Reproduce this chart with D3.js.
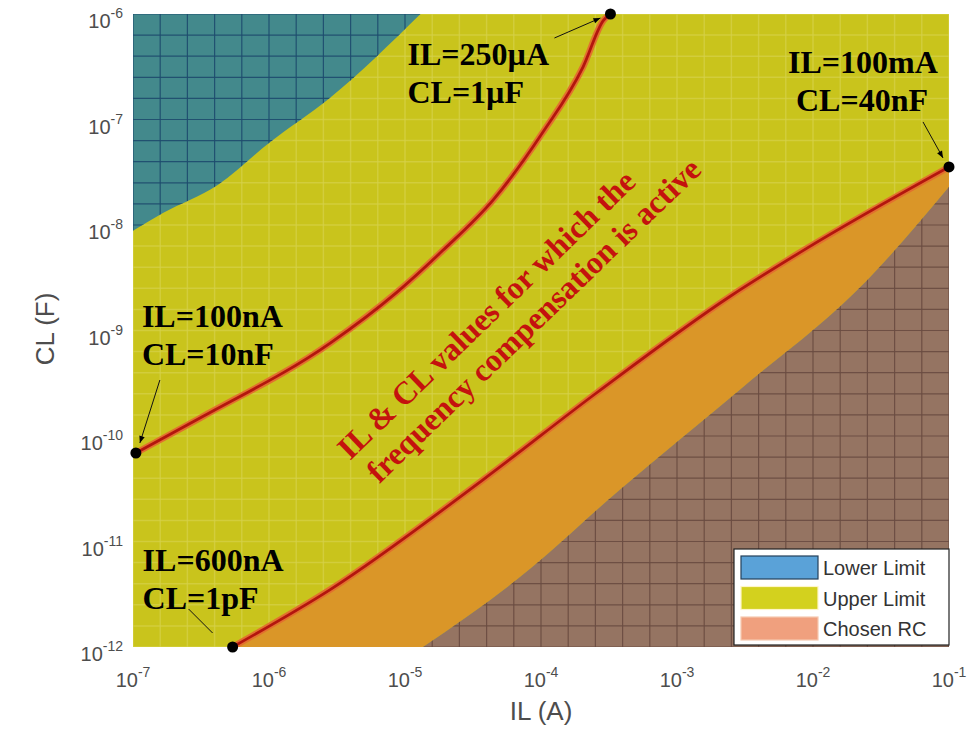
<!DOCTYPE html>
<html>
<head>
<meta charset="utf-8">
<script src="https://cdn.jsdelivr.net/npm/d3@7"></script>
<style>
  body { margin: 0; background: #fff; }
</style>
</head>
<body>
<svg id="chart" width="976" height="731"></svg>
<script>
// axis ticks (powers of ten)
const xTickExps = [-7, -6, -5, -4, -3, -2, -1];
const yTickExps = [-12, -11, -10, -9, -8, -7, -6];

// [IL (A), CL (F)] boundary of the "Lower Limit" region (top-left)
const lowerLimitEdge = [
  [1e-7, 8.8e-9], [1.66e-7, 1.3e-8], [4.2e-7, 2.4e-8], [1e-6, 6e-8],
  [2.8e-6, 1.6e-7], [1.3e-5, 1e-6],
];

// upper red curve, from IL=100nA up to IL=250µA
const upperCurve = [
  [1.05e-7, 6.9e-11], [3.11e-7, 1.48e-10], [2.82e-6, 7.6e-10],
  [8.7e-6, 2.3e-9], [1.9e-5, 5.75e-9], [4.47e-5, 1.74e-8],
  [1.02e-4, 7.4e-8], [2.04e-4, 3.16e-7], [2.88e-4, 8.7e-7],
  [3.24e-4, 1e-6],
];

// lower red curve, from IL=600nA up to IL=100mA
const lowerCurve = [
  [5.4e-7, 1e-12], [2.82e-6, 3.5e-12], [3.7e-5, 3.8e-11], [2.57e-4, 2.57e-10],
  [2.45e-3, 2.1e-9], [8.5e-3, 5.75e-9], [1e-1, 3.55e-8],
];

// boundary of the hatched region at bottom right
const chosenEdge = [
  [1.355e-5, 1e-12], [7.0e-5, 4.6e-12], [3.8e-4, 3.1e-11], [2.9e-3, 2.75e-10],
  [2.5e-2, 3.0e-9], [1e-1, 2.3e-8],
];

// end points marked with dots
const markers = [
  [3.24e-4, 1e-6], [1e-1, 3.55e-8], [1.05e-7, 6.9e-11], [5.4e-7, 1e-12],
];
const markerText = [
  ['IL=250µA', 'CL=1µF'],
  ['IL=100mA', ' CL=40nF'],
  ['IL=100nA', 'CL=10nF'],
  ['IL=600nA', 'CL=1pF'],
];

const legendNames = ['Lower Limit', 'Upper Limit', 'Chosen RC'];
const mainNote = ['IL & CL values for which the', 'frequency compensation is active'];

// layout
const pLeft = 133, pRight = 949, pTop = 14, pBottom = 647;
// pixel offsets from each marker: text origin and arrow
const noteLayout = [
  { tx: -203, ty: 51, arrow: [-56, 24, -10, 4], head: true },
  { tx: -161, ty: -94, arrow: [-26, -45, -6, -9], head: true },
  { tx: 6, ty: -126, arrow: [24, -73, 4, -10], head: true },
  { tx: -90, ty: -76, arrow: [-44, -38, -20, -14], head: false },
];

const colors = {
  yellow: '#c9c41c', yellowGrid: '#d6d24a',
  teal: '#43898c', tealGrid: '#1f4c6e',
  orange: '#da9628', brown: '#957462', brownGrid: '#6a4c42',
  redHalo: '#e2702e', redCore: '#b3160e',
};

const svg = d3.select('#chart');
const x = d3.scaleLog().domain([1e-7, 1e-1]).range([pLeft, pRight]);
const y = d3.scaleLog().domain([1e-12, 1e-6]).range([pBottom, pTop]);

const defs = svg.append('defs');
defs.append('clipPath').attr('id', 'plotClip')
  .append('rect').attr('x', pLeft).attr('y', pTop)
  .attr('width', pRight - pLeft).attr('height', pBottom - pTop);

defs.append('marker').attr('id', 'arrowHead')
  .attr('viewBox', '0 0 10 10').attr('refX', 10).attr('refY', 5)
  .attr('markerWidth', 9).attr('markerHeight', 7).attr('orient', 'auto')
  .attr('markerUnits', 'userSpaceOnUse')
  .append('path').attr('d', 'M0,1 L10,5 L0,9 Z').attr('fill', '#000');

const smooth = d3.line().x((d) => x(d[0])).y((d) => y(d[1])).curve(d3.curveMonotoneX);
const pt = (d) => `${x(d[0])},${y(d[1])}`;

// region outlines
const tealPath = smooth(lowerLimitEdge) + `L${pt([1e-7, 1e-6])}Z`;
const brownPath = smooth(chosenEdge) + `L${pt([1e-1, 1e-12])}Z`;
const revEdge = smooth(chosenEdge.slice().reverse());
const orangePath = smooth(lowerCurve) + 'L' + revEdge.slice(1) + 'Z';

defs.append('clipPath').attr('id', 'tealClip').append('path').attr('d', tealPath);
defs.append('clipPath').attr('id', 'brownClip').append('path').attr('d', brownPath);

// grid lines every 0.2 decade
const gridX = d3.range(0, 31).map((k) => Math.pow(10, -7 + k * 0.2));
const gridY = d3.range(0, 31).map((k) => Math.pow(10, -12 + k * 0.2));

const drawGrid = (g, color, width, opacity) => {
  g.selectAll('line.gx').data(gridX).join('line').attr('class', 'gx')
    .attr('x1', (d) => x(d)).attr('x2', (d) => x(d)).attr('y1', pTop).attr('y2', pBottom)
    .attr('stroke', color).attr('stroke-width', width).attr('opacity', opacity);
  g.selectAll('line.gy').data(gridY).join('line').attr('class', 'gy')
    .attr('y1', (d) => y(d)).attr('y2', (d) => y(d)).attr('x1', pLeft).attr('x2', pRight)
    .attr('stroke', color).attr('stroke-width', width).attr('opacity', opacity);
};

const plot = svg.append('g').attr('clip-path', 'url(#plotClip)');

plot.append('rect').attr('x', pLeft).attr('y', pTop)
  .attr('width', pRight - pLeft).attr('height', pBottom - pTop).attr('fill', colors.yellow);
drawGrid(plot.append('g'), colors.yellowGrid, 1.5, 0.7);

plot.append('path').attr('d', tealPath).attr('fill', colors.teal);
drawGrid(plot.append('g').attr('clip-path', 'url(#tealClip)'), colors.tealGrid, 1.2, 0.9);

plot.append('path').attr('d', orangePath).attr('fill', colors.orange);
plot.append('path').attr('d', brownPath).attr('fill', colors.brown);
drawGrid(plot.append('g').attr('clip-path', 'url(#brownClip)'), colors.brownGrid, 1.2, 0.9);

// red curves
[upperCurve, lowerCurve].forEach((c) => {
  plot.append('path').attr('d', smooth(c)).attr('fill', 'none')
    .attr('stroke', colors.redHalo).attr('stroke-width', 6.5).attr('stroke-linecap', 'round');
  plot.append('path').attr('d', smooth(c)).attr('fill', 'none')
    .attr('stroke', colors.redCore).attr('stroke-width', 2.8).attr('stroke-linecap', 'round');
});

// axes tick labels
const tickFont = '"Liberation Sans", Arial, sans-serif';
const xt = svg.append('g').attr('font-family', tickFont).attr('fill', '#4d4d4d');
xTickExps.forEach((e) => {
  const t = xt.append('text').attr('x', x(Math.pow(10, e))).attr('y', pBottom + 40)
    .attr('text-anchor', 'middle').attr('font-size', 20);
  t.append('tspan').text('10');
  t.append('tspan').attr('font-size', 14).attr('dy', -10).text(String(e));
});
const yt = svg.append('g').attr('font-family', tickFont).attr('fill', '#4d4d4d');
yTickExps.forEach((e) => {
  const t = yt.append('text').attr('x', 123).attr('y', y(Math.pow(10, e)) + 14)
    .attr('text-anchor', 'end').attr('font-size', 20);
  t.append('tspan').text('10');
  t.append('tspan').attr('font-size', 14).attr('dy', -10).text(String(e));
});

svg.append('text').attr('x', 541).attr('y', 720).attr('text-anchor', 'middle')
  .attr('font-family', tickFont).attr('font-size', 26).attr('fill', '#4d4d4d').text('IL (A)');
svg.append('text').attr('transform', 'translate(54,329) rotate(-90)').attr('text-anchor', 'middle')
  .attr('font-family', tickFont).attr('font-size', 26).attr('fill', '#4d4d4d').text('CL (F)');

// legend
const lg = svg.append('g');
lg.append('rect').attr('x', 734).attr('y', 549).attr('width', 215).attr('height', 96)
  .attr('fill', '#fff').attr('stroke', '#222').attr('stroke-width', 1.2);
const swatch = [
  { fill: '#5aa2d8', stroke: '#24405a' },
  { fill: '#d3d11e', stroke: '#fff6c8' },
  { fill: '#f0a07e', stroke: '#f6c8b0' },
];
legendNames.forEach((name, i) => {
  const yy = 556 + i * 30.5;
  lg.append('rect').attr('x', 741).attr('y', yy).attr('width', 77).attr('height', 23)
    .attr('fill', swatch[i].fill).attr('stroke', swatch[i].stroke).attr('stroke-width', 1.2);
  lg.append('text').attr('x', 823).attr('y', yy + 19).attr('font-family', tickFont)
    .attr('font-size', 20).attr('fill', '#333').text(name);
});

// markers and notes
const noteFont = '"Liberation Serif", "Times New Roman", serif';
markers.forEach((m, i) => {
  const mx = x(m[0]), my = y(m[1]);
  const L = noteLayout[i];
  const a = L.arrow;
  svg.append('line').attr('x1', mx + a[0]).attr('y1', my + a[1])
    .attr('x2', mx + a[2]).attr('y2', my + a[3])
    .attr('stroke', '#111').attr('stroke-width', 1)
    .attr('marker-end', L.head ? 'url(#arrowHead)' : null);
  const t = svg.append('text').attr('font-family', noteFont).attr('font-weight', 'bold')
    .attr('font-size', 32).attr('fill', '#000').attr('xml:space', 'preserve');
  t.append('tspan').attr('x', mx + L.tx).attr('y', my + L.ty).text(markerText[i][0]);
  t.append('tspan').attr('x', mx + L.tx).attr('y', my + L.ty + 38).text(markerText[i][1]);
});
svg.selectAll('circle.marker').data(markers).join('circle').attr('class', 'marker')
  .attr('cx', (d) => x(d[0])).attr('cy', (d) => y(d[1])).attr('r', 5.5).attr('fill', '#000');

const note = svg.append('text').attr('transform', 'translate(350,461) rotate(-44)')
  .attr('font-family', noteFont).attr('font-weight', 'bold').attr('font-size', 32)
  .attr('fill', '#c4120e');
note.append('tspan').attr('x', 0).attr('y', 0).text(mainNote[0]);
note.append('tspan').attr('x', 5).attr('y', 37).text(mainNote[1]);
</script>
</body>
</html>
